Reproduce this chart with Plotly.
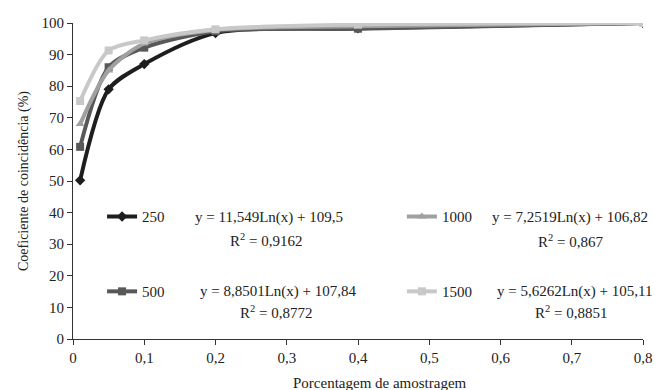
import plotly.graph_objects as go

x_vals = [0.01, 0.05, 0.1, 0.2, 0.4, 0.8]
y_250 = [50.2, 79.0, 87.0, 96.8, 98.3, 100.0]
y_500 = [60.8, 86.0, 92.2, 97.4, 98.2, 100.0]
y_1000 = [68.0, 85.0, 93.5, 97.8, 99.0, 100.0]
y_1500 = [75.3, 91.3, 94.5, 98.0, 99.5, 100.0]

names = ["250", "500", "1000", "1500"]
series = [y_250, y_500, y_1000, y_1500]
colors = ["#1e1e1e", "#585858", "#a0a0a0", "#c8c8c8"]
symbols = ["diamond", "square", "triangle-up", "square"]
legends = ["legend", "legend2", "legend3", "legend4"]
equations = [
    "y = 11,549Ln(x) + 109,5",
    "y = 8,8501Ln(x) + 107,84",
    "y = 7,2519Ln(x) + 106,82",
    "y = 5,6262Ln(x) + 105,11",
]
r2 = ["R<sup>2</sup> = 0,9162", "R<sup>2</sup> = 0,8772",
      "R<sup>2</sup> = 0,867", "R<sup>2</sup> = 0,8851"]

x_ticks = [0, 0.1, 0.2, 0.3, 0.4, 0.5, 0.6, 0.7, 0.8]
x_tick_text = ["0", "0,1", "0,2", "0,3", "0,4", "0,5", "0,6", "0,7", "0,8"]

FONT = "Liberation Serif"
FS = 15
TXT = "#222"

fig = go.Figure()
for i in range(4):
    fig.add_trace(go.Scatter(
        x=x_vals, y=series[i], name=names[i], mode="lines+markers",
        line=dict(color=colors[i], width=4, shape="spline", smoothing=0.8),
        marker=dict(symbol=symbols[i], size=8, color=colors[i]),
        legend=legends[i],
    ))

# legend positions (paper coords) and equation positions
leg_pos = [(0.051, 0.387), (0.051, 0.150), (0.577, 0.387), (0.577, 0.150)]
eq_pos = [(0.343, 0.384), (0.360, 0.150), (0.872, 0.384), (0.881, 0.150)]
r2_pos = [(0.339, 0.313), (0.357, 0.084), (0.872, 0.310), (0.874, 0.084)]

layout_legends = {}
for i in range(4):
    key = "legend" if i == 0 else f"legend{i+1}"
    layout_legends[key] = dict(
        x=leg_pos[i][0], y=leg_pos[i][1], xanchor="left", yanchor="middle",
        bgcolor="rgba(0,0,0,0)", font=dict(family=FONT, size=FS, color=TXT),
        itemwidth=30,
    )

annotations = []
for i in range(4):
    annotations.append(dict(
        x=eq_pos[i][0], y=eq_pos[i][1], xref="paper", yref="paper",
        text=equations[i], showarrow=False, xanchor="center", yanchor="middle",
        font=dict(family=FONT, size=FS, color=TXT),
    ))
    annotations.append(dict(
        x=r2_pos[i][0], y=r2_pos[i][1], xref="paper", yref="paper",
        text=r2[i], showarrow=False, xanchor="center", yanchor="middle",
        font=dict(family=FONT, size=FS, color=TXT),
    ))
annotations.append(dict(
    x=0.539, y=-0.139, xref="paper", yref="paper",
    text="Porcentagem de amostragem", showarrow=False,
    xanchor="center", yanchor="middle",
    font=dict(family=FONT, size=FS, color=TXT),
))

fig.update_layout(
    width=655, height=390,
    margin=dict(l=73, r=12, t=23, b=51, autoexpand=False),
    plot_bgcolor="white", paper_bgcolor="white",
    font=dict(family=FONT, size=FS, color=TXT),
    showlegend=True,
    annotations=annotations,
    **layout_legends,
)
fig.update_xaxes(
    range=[0, 0.8], tickvals=x_ticks, ticktext=x_tick_text,
    showgrid=False, zeroline=False, showline=True, linecolor="#333", linewidth=1,
    ticks="outside", ticklen=5, tickcolor="#333", automargin=False,
)
fig.update_yaxes(
    range=[0, 100], dtick=10,
    showgrid=False, zeroline=False, showline=True, linecolor="#333", linewidth=1,
    ticks="outside", ticklen=5, tickcolor="#333", automargin=False,
    title=dict(text="Coeficiente de coincidência (%)", font=dict(family=FONT, size=14), standoff=9),
)

fig.write_html("out.html")
